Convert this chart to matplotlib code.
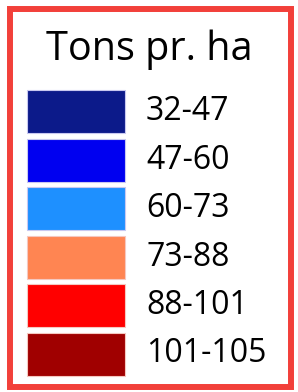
import matplotlib.pyplot as plt
from matplotlib.patches import Rectangle

title = "Tons pr. ha"
labels = ["32-47", "47-60", "60-73", "73-88", "88-101", "101-105"]
colors = ["#0c1a8a", "#0000f0", "#1e90ff", "#ff8552", "#ff0000", "#a00000"]

W, H = 298, 392
fig = plt.figure(figsize=(W / 100, H / 100), dpi=100)
ax = fig.add_axes([0, 0, 1, 1])
ax.set_xlim(0, W)
ax.set_ylim(H, 0)
ax.axis("off")

# red frame
ax.add_patch(Rectangle((9.5, 9), 281.5, 378, fill=False, edgecolor="#f2403a", linewidth=4.3))

ax.text(149, 50, title, ha="center", va="center", fontsize=28.5, family="Open Sans")

for i, (lab, col) in enumerate(zip(labels, colors)):
    y0 = 90 + i * 48.5
    ax.add_patch(Rectangle((27, y0), 98, 43, facecolor=col, edgecolor="#c8c8f0" if i < 3 else "#f5c8c0", linewidth=0.8))
    ax.text(146, y0 + 21.5, lab, ha="left", va="center", fontsize=23, family="Open Sans")

fig.savefig("out.png", dpi=100)
